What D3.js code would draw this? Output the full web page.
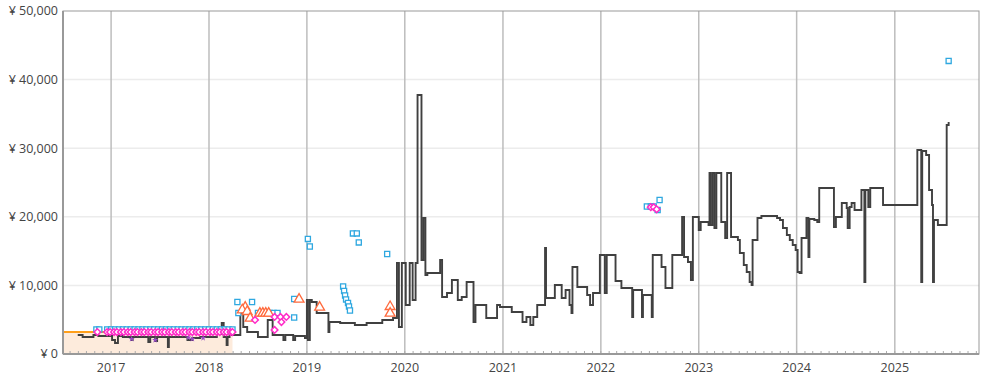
<!DOCTYPE html>
<html>
<head>
<meta charset="utf-8">
<script src="https://cdn.jsdelivr.net/npm/d3@7"></script>
<style>
  body { margin: 0; background: #fff; }
  svg { display: block; font-family: "Open Sans", "Noto Sans", sans-serif; }
  .y-axis text, .x-axis text { fill: #444; font-size: 12.5px; }
</style>
</head>
<body>
<div id="chart"></div>
<script>
// values; dates are decimal years
const yTicks = [0, 10000, 20000, 30000, 40000, 50000];
const yearTicks = [2017, 2018, 2019, 2020, 2021, 2022, 2023, 2024, 2025];
const dateRange = [2016.51, 2025.86];

// Amazon price (orange line + shaded area)
const amazonPrice = [[2016.51, 3200], [2018.24, 3200]];

// new price (dark step line)
const newPrice = [
  [2016.66, 2770], [2016.71, 2480], [2016.82, 2770], [2016.87, 2620], [2017.01, 2040],
  [2017.04, 1600], [2017.07, 2620], [2017.12, 2480], [2017.21, 2040], [2017.22, 2480],
  [2017.38, 1750], [2017.40, 2480], [2017.45, 1900], [2017.47, 2480], [2017.58, 1020],
  [2017.59, 2480], [2017.78, 2040], [2017.83, 2330], [2017.91, 2480], [2018.08, 3790],
  [2018.11, 2920], [2018.13, 4520], [2018.15, 2480], [2018.18, 1310], [2018.19, 2480],
  [2018.21, 2770], [2018.32, 5980], [2018.35, 3940], [2018.39, 3210], [2018.50, 2480],
  [2018.60, 4960], [2018.65, 2770], [2018.76, 2040], [2018.78, 2770], [2018.86, 2040],
  [2018.88, 2620], [2018.98, 2330], [2019.00, 7870], [2019.01, 2040], [2019.03, 7870],
  [2019.05, 7580], [2019.10, 5980], [2019.22, 3210], [2019.23, 4670], [2019.34, 4520],
  [2019.49, 4230], [2019.61, 4520], [2019.77, 4960], [2019.88, 5250], [2019.92, 13270],
  [2019.94, 3940], [2019.97, 13270], [2020.01, 7140], [2020.05, 13270], [2020.08, 7870],
  [2020.11, 13270], [2020.13, 37760], [2020.17, 13700], [2020.19, 19830], [2020.21, 11520],
  [2020.23, 11810], [2020.36, 13700], [2020.38, 8310], [2020.43, 8890], [2020.48, 10790],
  [2020.54, 7870], [2020.58, 8310], [2020.63, 10500], [2020.70, 4670], [2020.72, 7140],
  [2020.83, 5250], [2020.94, 7140], [2020.97, 6850], [2021.09, 6120], [2021.20, 4670],
  [2021.24, 5390], [2021.28, 4230], [2021.31, 5390], [2021.35, 7140], [2021.43, 15450],
  [2021.44, 8160], [2021.53, 10060], [2021.60, 8160], [2021.64, 9330], [2021.68, 7140],
  [2021.70, 5980], [2021.71, 12680], [2021.76, 9770], [2021.86, 8600], [2021.89, 7140],
  [2021.92, 8890], [2021.99, 14430], [2022.04, 8890], [2022.06, 14430], [2022.15, 10640],
  [2022.21, 9620], [2022.32, 5390], [2022.33, 9330], [2022.42, 5390], [2022.43, 8600],
  [2022.52, 5390], [2022.53, 14430], [2022.62, 12680], [2022.66, 9620], [2022.73, 14430],
  [2022.83, 19970], [2022.85, 14140], [2022.89, 13410], [2022.92, 10790], [2022.94, 19970],
  [2023.00, 18080], [2023.02, 19250], [2023.10, 18810], [2023.11, 26390], [2023.12, 18810],
  [2023.14, 26390], [2023.16, 18370], [2023.18, 26390], [2023.23, 19250], [2023.27, 16910],
  [2023.29, 26390], [2023.33, 17060], [2023.40, 16620], [2023.42, 14730], [2023.46, 12980],
  [2023.49, 11960], [2023.52, 10500], [2023.54, 10060], [2023.55, 16620], [2023.60, 19830],
  [2023.64, 20120], [2023.74, 20120], [2023.80, 19830], [2023.83, 19540], [2023.86, 18370],
  [2023.90, 17350], [2023.93, 16620], [2023.96, 15890], [2023.99, 15160], [2024.01, 11960],
  [2024.03, 11810], [2024.05, 16910], [2024.10, 19830], [2024.12, 14140], [2024.13, 19680],
  [2024.18, 19540], [2024.21, 19250], [2024.23, 24200], [2024.38, 18520], [2024.40, 19970],
  [2024.46, 22020], [2024.51, 21290], [2024.52, 18370], [2024.54, 21430], [2024.56, 22020],
  [2024.59, 21000], [2024.66, 23910], [2024.69, 10500], [2024.70, 23910], [2024.73, 21430],
  [2024.75, 24200], [2024.88, 21720], [2025.23, 29740], [2025.27, 10500], [2025.28, 29600],
  [2025.32, 29010], [2025.35, 23910], [2025.38, 21720], [2025.39, 10500], [2025.40, 19540],
  [2025.44, 18810], [2025.53, 33390], [2025.55, 33830]
];

// used offers (cyan squares)
const usedOffers = [
  [2016.85, 3570], [2016.88, 3570], [2016.96, 3570], [2017.00, 3570], [2017.04, 3570],
  [2017.08, 3570], [2017.12, 3570], [2017.16, 3570], [2017.20, 3570], [2017.24, 3570],
  [2017.28, 3570], [2017.32, 3570], [2017.36, 3570], [2017.40, 3570], [2017.44, 3570],
  [2017.48, 3570], [2017.52, 3570], [2017.56, 3570], [2017.60, 3570], [2017.64, 3570],
  [2017.68, 3570], [2017.72, 3570], [2017.76, 3570], [2017.80, 3570], [2017.84, 3570],
  [2017.88, 3570], [2017.92, 3570], [2017.96, 3570], [2018.00, 3570], [2018.04, 3570],
  [2018.08, 3570], [2018.12, 3570], [2018.16, 3570], [2018.20, 3570], [2018.24, 3570],
  [2018.29, 7580], [2018.44, 7580], [2018.30, 5980], [2018.50, 5980], [2018.54, 5980],
  [2018.58, 5980], [2018.62, 5980], [2018.66, 5980], [2018.70, 5980], [2018.87, 8020],
  [2018.87, 5320], [2019.01, 16770], [2019.03, 15670], [2019.47, 17570], [2019.51, 17570],
  [2019.53, 16260], [2019.37, 9840], [2019.38, 9190], [2019.39, 8530], [2019.40, 7950],
  [2019.42, 7440], [2019.43, 6930], [2019.44, 6340], [2019.82, 14580],
  [2022.47, 21500], [2022.51, 21500], [2022.54, 21500], [2022.58, 21000], [2022.60, 22450],
  [2025.55, 42720]
];

// collectible offers (magenta diamonds)
const collectibleOffers = [
  [2016.86, 3200], [2016.96, 3200], [2016.99, 3200], [2017.03, 3200], [2017.06, 3200],
  [2017.10, 3200], [2017.13, 3200], [2017.17, 3200], [2017.20, 3200], [2017.24, 3200],
  [2017.27, 3200], [2017.31, 3200], [2017.34, 3200], [2017.38, 3200], [2017.41, 3200],
  [2017.45, 3200], [2017.48, 3200], [2017.52, 3200], [2017.55, 3200], [2017.59, 3200],
  [2017.62, 3200], [2017.66, 3200], [2017.69, 3200], [2017.73, 3200], [2017.76, 3200],
  [2017.80, 3200], [2017.83, 3200], [2017.87, 3200], [2017.90, 3200], [2017.94, 3200],
  [2017.97, 3200], [2018.01, 3200], [2018.04, 3200], [2018.08, 3200], [2018.11, 3200],
  [2018.15, 3200], [2018.18, 3200], [2018.22, 3200], [2018.24, 3200],
  [2018.47, 4960], [2018.67, 5400], [2018.73, 5400], [2018.74, 4660], [2018.79, 5400],
  [2018.67, 3500],
  [2022.51, 21400], [2022.54, 21400], [2022.57, 21100]
];

// refurbished offers (orange triangles)
const refurbOffers = [
  [2018.37, 6810], [2018.34, 6420], [2018.39, 6170], [2018.42, 5200], [2018.52, 5930],
  [2018.55, 5930], [2018.58, 5930], [2018.61, 5930], [2018.92, 7970], [2019.13, 6810],
  [2019.85, 6900], [2019.85, 5930]
];

// warehouse offers (small purple marks)
const warehouseOffers = [
  [2017.21, 2190], [2017.45, 2040], [2017.79, 2400], [2017.83, 2190], [2017.94, 2330]
];

const margin = {top: 11, right: 9, bottom: 23, left: 63};
const W = 988, H = 377;
const width = W - margin.left - margin.right;
const height = H - margin.top - margin.bottom;

function toDate(y) {
  const yr = Math.floor(y);
  const start = Date.UTC(yr, 0, 1), end = Date.UTC(yr + 1, 0, 1);
  return new Date(start + (y - yr) * (end - start));
}

const svg = d3.select("#chart").append("svg")
  .attr("width", W).attr("height", H);
const g = svg.append("g").attr("transform", `translate(${margin.left},${margin.top})`);

const x = d3.scaleUtc().domain(dateRange.map(toDate)).range([0, width]);
const y = d3.scaleLinear().domain([0, 50000]).range([height, 0]);

svg.append("defs").append("clipPath").attr("id", "plot-clip")
  .append("rect").attr("width", width).attr("height", height);

// horizontal gridlines
g.append("g").selectAll("line").data(yTicks.slice(1, -1)).join("line")
  .attr("x1", 0).attr("x2", width)
  .attr("y1", d => y(d)).attr("y2", d => y(d))
  .attr("stroke", "#ececec").attr("stroke-width", 1.5);

// year gridlines
g.append("g").selectAll("line").data(yearTicks).join("line")
  .attr("x1", d => x(toDate(d))).attr("x2", d => x(toDate(d)))
  .attr("y1", 0).attr("y2", height)
  .attr("stroke", "#bdbdbd").attr("stroke-width", 1.5);

const plot = g.append("g").attr("clip-path", "url(#plot-clip)");

// Amazon area + line
plot.append("path")
  .datum(amazonPrice)
  .attr("fill", "#fdebdc")
  .attr("d", d3.area().curve(d3.curveStepAfter)
    .x(d => x(toDate(d[0]))).y0(height).y1(d => y(d[1])));
plot.append("path")
  .datum(amazonPrice)
  .attr("fill", "none").attr("stroke", "#ff9f1a").attr("stroke-width", 2)
  .attr("d", d3.line().curve(d3.curveStepAfter)
    .x(d => x(toDate(d[0]))).y(d => y(d[1])));

// new price line
plot.append("path")
  .datum(newPrice)
  .attr("fill", "none").attr("stroke", "#404040").attr("stroke-width", 1.9)
  .attr("d", d3.line().curve(d3.curveStepAfter)
    .x(d => x(toDate(d[0]))).y(d => y(d[1])));

// markers
function markers(data, type, size, stroke, fill, sw, rot) {
  plot.append("g").selectAll("path").data(data).join("path")
    .attr("transform", d => `translate(${x(toDate(d[0]))},${y(d[1])})${rot ? " rotate(" + rot + ")" : ""}`)
    .attr("d", d3.symbol().type(type).size(size))
    .attr("fill", fill).attr("stroke", stroke).attr("stroke-width", sw);
}
markers(warehouseOffers, d3.symbolStar, 12, "none", "#9a4cc4", 0);
markers(usedOffers, d3.symbolSquare, 26, "#2fa8e0", "#fff", 1.3);
markers(refurbOffers, d3.symbolTriangle, 42, "#ff6a3d", "#fff", 1.3);
markers(collectibleOffers, d3.symbolSquare, 22, "#ff2bc8", "#fff", 1.5, 45);

// month ticks along the bottom
g.append("g").selectAll("line")
  .data(d3.utcMonth.range(toDate(dateRange[0]), toDate(dateRange[1])))
  .join("line")
  .attr("x1", d => x(d)).attr("x2", d => x(d))
  .attr("y1", height - 3).attr("y2", height)
  .attr("stroke", "#aaa").attr("stroke-width", 1);

// frame
g.append("rect").attr("width", width).attr("height", height)
  .attr("fill", "none").attr("stroke", "#999").attr("stroke-width", 1);
g.append("line").attr("x1", 0).attr("x2", 0).attr("y1", 0).attr("y2", height)
  .attr("stroke", "#999").attr("stroke-width", 2);
g.append("line").attr("x1", 0).attr("x2", width).attr("y1", height).attr("y2", height)
  .attr("stroke", "#999").attr("stroke-width", 2);

// y axis labels
const fmt = d3.format(",");
g.append("g").attr("class", "y-axis").selectAll("text").data(yTicks).join("text")
  .attr("x", -5).attr("y", d => y(d)).attr("dy", "0.35em")
  .attr("text-anchor", "end")
  .text(d => "¥ " + fmt(d));

// x axis labels
g.append("g").attr("class", "x-axis").selectAll("text").data(yearTicks).join("text")
  .attr("x", d => x(toDate(d))).attr("y", height + 18)
  .attr("text-anchor", "middle")
  .text(d => d);
</script>
</body>
</html>
